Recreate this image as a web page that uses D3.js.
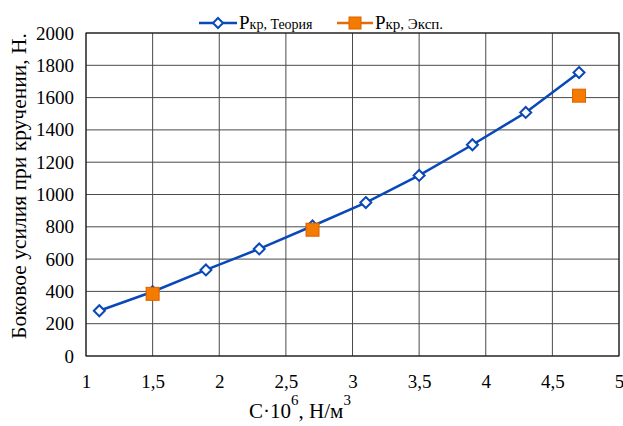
<!DOCTYPE html>
<html><head><meta charset="utf-8">
<script src="https://cdn.jsdelivr.net/npm/d3@7/dist/d3.min.js"></script>
<style>body{margin:0;background:#fff}svg{display:block}
text{font-family:"Liberation Serif","Times New Roman",serif}</style>
</head><body>
<svg id="c" width="623" height="426"></svg>
<script>
const theoryX = [1.1, 1.5, 1.9, 2.3, 2.7, 3.1, 3.5, 3.9, 4.3, 4.7];
const theoryY = [280, 398, 533, 663, 805, 950, 1118, 1308, 1508, 1755];
const expX = [1.5, 2.7, 4.7];
const expY = [385, 782, 1612];
const xTicks = [1, 1.5, 2, 2.5, 3, 3.5, 4, 4.5, 5];
const yTicks = [0, 200, 400, 600, 800, 1000, 1200, 1400, 1600, 1800, 2000];

const svg = d3.select("#c");
const L = 86, R = 619, T = 33, B = 356;
const x = d3.scaleLinear().domain([1, 5]).range([L, R]);
const y = d3.scaleLinear().domain([0, 2000]).range([B, T]);

// grid
svg.append("g").selectAll("line").data(xTicks).join("line")
  .attr("x1", d => x(d)).attr("x2", d => x(d)).attr("y1", T).attr("y2", B)
  .attr("stroke", "#4a4a4a").attr("stroke-width", 1);
svg.append("g").selectAll("line").data(yTicks).join("line")
  .attr("x1", L).attr("x2", R).attr("y1", d => y(d)).attr("y2", d => y(d))
  .attr("stroke", "#4a4a4a").attr("stroke-width", 1);
svg.append("rect").attr("x", L).attr("y", T).attr("width", R - L).attr("height", B - T)
  .attr("fill", "none").attr("stroke", "#111").attr("stroke-width", 1);

// axes labels
const fmt = d => String(d).replace(".", ",");
const xa = svg.append("g").attr("transform", `translate(0,${B + 15})`)
  .call(d3.axisBottom(x).tickValues(xTicks).tickFormat(fmt).tickSize(0));
xa.select(".domain").remove();
xa.attr("font-family", null).attr("font-size", null);
xa.selectAll("text").style("font-size", "19px").attr("fill", "#000");
const ya = svg.append("g").attr("transform", `translate(${L - 9},0)`)
  .call(d3.axisLeft(y).tickValues(yTicks).tickFormat(d => String(d)).tickSize(0));
ya.select(".domain").remove();
ya.attr("font-family", null).attr("font-size", null);
ya.selectAll("text").style("font-size", "19px").attr("fill", "#000");

// titles
svg.append("text").attr("transform", `translate(26,186) rotate(-90)`)
  .attr("text-anchor", "middle").style("font-size", "21.5px")
  .text("Боковое усилия при кручении, Н.");
const xt = svg.append("text").attr("x", 300).attr("y", 418).attr("text-anchor", "middle")
  .style("font-size", "21px");
xt.append("tspan").text("C·10");
xt.append("tspan").attr("dy", -13).style("font-size", "15px").text("6");
xt.append("tspan").attr("dy", 13).text(", Н/м");
xt.append("tspan").attr("dy", -13).style("font-size", "15px").text("3");

// theory line
const blue = "#0a48b8";
svg.append("path").datum(theoryX.map((d, i) => [d, theoryY[i]]))
  .attr("d", d3.line().x(d => x(d[0])).y(d => y(d[1])))
  .attr("fill", "none").attr("stroke", blue).attr("stroke-width", 2.5);
const diamond = (cx, cy, s) => `M${cx},${cy - s}L${cx + s},${cy}L${cx},${cy + s}L${cx - s},${cy}Z`;
svg.append("g").selectAll("path").data(theoryX.map((d, i) => [d, theoryY[i]])).join("path")
  .attr("d", d => diamond(x(d[0]), y(d[1]), 5.5))
  .attr("fill", "#fff").attr("stroke", blue).attr("stroke-width", 2);
// experiment
svg.append("g").selectAll("rect").data(expX.map((d, i) => [d, expY[i]])).join("rect")
  .attr("x", d => x(d[0]) - 6.5).attr("y", d => y(d[1]) - 6.5).attr("width", 13).attr("height", 13)
  .attr("fill", "#f47a00").attr("stroke", "#d96400").attr("stroke-width", 1);

// legend
const ly = 23;
svg.append("line").attr("x1", 199).attr("x2", 237).attr("y1", ly).attr("y2", ly).attr("stroke", blue).attr("stroke-width", 2.5);
svg.append("path").attr("d", diamond(218, ly, 5)).attr("fill", "#fff").attr("stroke", blue).attr("stroke-width", 2);
const t1 = svg.append("text").attr("x", 239).attr("y", ly + 6).style("font-size", "19px");
t1.append("tspan").text("P");
t1.append("tspan").style("font-size", "14px").text("кр, Теория");
svg.append("line").attr("x1", 337).attr("x2", 373).attr("y1", ly).attr("y2", ly).attr("stroke", "#e36c0a").attr("stroke-width", 2.5);
svg.append("rect").attr("x", 349).attr("y", ly - 6).attr("width", 12).attr("height", 12).attr("fill", "#f47a00").attr("stroke", "#d96400");
const t2 = svg.append("text").attr("x", 375).attr("y", ly + 6).style("font-size", "19px");
t2.append("tspan").text("P");
t2.append("tspan").style("font-size", "15px").text("кр, Эксп.");
</script>
</body></html>
